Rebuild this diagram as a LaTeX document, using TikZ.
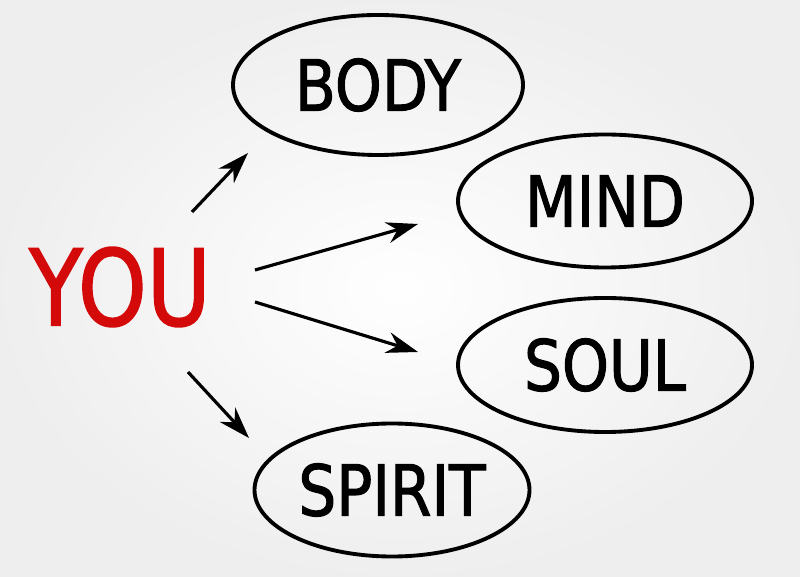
\documentclass[tikz,border=0pt]{standalone}
\usepackage{fontspec}
\setmainfont{DejaVu Sans}
\newfontfamily\markerfont[FakeBold=1.6]{DejaVu Sans}
\usepackage{xcolor}
\usetikzlibrary{arrows.meta,shapes.geometric}

\definecolor{youred}{HTML}{D40A0A}

\tikzset{
  bubble/.style={ellipse, draw=black, line width=2.2pt, inner sep=0pt,
    font=\markerfont\fontsize{40}{40}\selectfont},
  pointer/.style={line width=1.8pt, -{Stealth[length=18pt,width=12pt]}},
}

\begin{document}
\begin{tikzpicture}
  \useasboundingbox (0,0) rectangle (16,11.52);
  % soft grey backdrop, lighter in the middle
  \shade[inner color=white, outer color=black!16] (0,0) rectangle (16,11.52);
  \shade[inner color=white, outer color=white, opacity=0.6] (0,0) rectangle (16,11.52);

  \node[text=youred, font=\markerfont\fontsize{60}{60}\selectfont] (you) at (2.4,5.78) {\scalebox{0.83}[1]{YOU}};

  \node[bubble, minimum width=5.8cm, minimum height=2.8cm] (body) at (7.56,9.82) {\scalebox{0.85}[1]{BODY}};
  \node[bubble, minimum width=5.88cm, minimum height=2.66cm] (mind) at (12.1,7.5) {\scalebox{0.85}[1]{MIND}};
  \node[bubble, minimum width=5.88cm, minimum height=2.68cm] (soul) at (12.1,4.22) {\scalebox{0.85}[1]{SOUL}};
  \node[bubble, minimum width=5.5cm, minimum height=2.66cm] (spirit) at (7.84,1.72) {\scalebox{0.85}[1]{SPIRIT}};

  % arrow ends, left free of the ellipses
  \coordinate (a1) at (3.84,7.28);  \coordinate (b1) at (4.96,8.46);
  \coordinate (a2) at (5.10,6.12);  \coordinate (b2) at (8.36,7.04);
  \coordinate (a3) at (5.10,5.48);  \coordinate (b3) at (8.36,4.48);
  \coordinate (a4) at (3.76,4.08);  \coordinate (b4) at (4.98,2.76);

  \draw[pointer] (a1) -- (b1);
  \draw[pointer] (a2) -- (b2);
  \draw[pointer] (a3) -- (b3);
  \draw[pointer] (a4) -- (b4);
\end{tikzpicture}
\end{document}
